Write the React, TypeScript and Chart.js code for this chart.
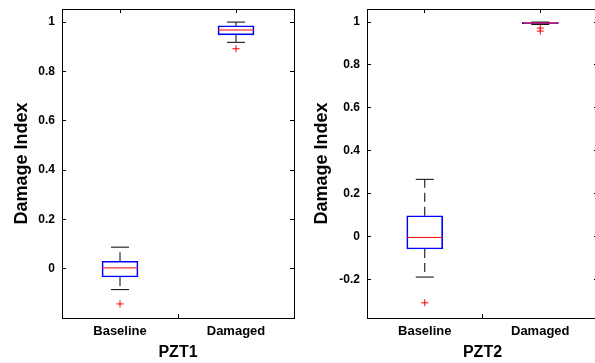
import React, { useEffect, useRef } from "react";
import { Chart, registerables } from "chart.js";
Chart.register(...registerables);

// ---------- data ----------
const categories = ["Baseline", "Damaged"];

// PZT1
const pzt1UpperWhisker = [0.088, 1.0];
const pzt1Q3 = [0.031, 0.985];
const pzt1Median = [0.004, 0.968];
const pzt1Q1 = [-0.033, 0.948];
const pzt1LowerWhisker = [-0.084, 0.918];
const pzt1Outliers = [[-0.142], [0.892]];
const pzt1YTicks = [0, 0.2, 0.4, 0.6, 0.8, 1];
const pzt1YRange = [-0.199, 1.053];

// PZT2
const pzt2UpperWhisker = [0.266, 1.0];
const pzt2Q3 = [0.096, 0.999];
const pzt2Median = [-0.005, 0.996];
const pzt2Q1 = [-0.059, 0.993];
const pzt2LowerWhisker = [-0.19, 0.989];
const pzt2Outliers = [[-0.31], [0.972, 0.958]];
const pzt2YTicks = [-0.2, 0, 0.2, 0.4, 0.6, 0.8, 1];
const pzt2YRange = [-0.381, 1.061];

const FONT = "'Liberation Sans', Arial, Helvetica, sans-serif";

type PanelSpec = {
  title: string;
  uw: number[];
  q3: number[];
  med: number[];
  q1: number[];
  lw: number[];
  out: number[][];
  yTicks: number[];
  yRange: number[];
  yAxisWidth: number;
  padRight: number;
};

function zeroPad(s: any) {
  s.paddingTop = 0;
  s.paddingBottom = 0;
  s.paddingLeft = 0;
  s.paddingRight = 0;
}

function buildConfig(p: PanelSpec): any {
  const xs = categories.map((_, i) => i + 1);
  const datasets: any[] = [];

  // outliers
  const outPts: any[] = [];
  p.out.forEach((arr, i) => arr.forEach((v) => outPts.push({ x: xs[i], y: v })));
  datasets.push({
    type: "scatter",
    data: outPts,
    pointStyle: "cross",
    pointRadius: 3.5,
    pointBorderColor: "#ff0000",
    pointBackgroundColor: "#ff0000",
    pointBorderWidth: 1,
    showLine: false,
    order: 0,
    xAxisID: "x",
    yAxisID: "y",
  });
  // medians
  datasets.push({
    type: "scatter",
    data: xs.map((x, i) => ({ x, y: p.med[i] })),
    pointStyle: "line",
    pointRadius: 18,
    pointBorderColor: "#ff0000",
    pointBorderWidth: 1,
    showLine: false,
    order: 1,
    xAxisID: "x",
    yAxisID: "y",
  });
  // boxes
  datasets.push({
    type: "bar",
    data: xs.map((x, i) => ({ x, y: [p.q1[i], p.q3[i]] })),
    barThickness: 36,
    grouped: false,
    borderColor: "#0000ff",
    borderWidth: 1,
    borderSkipped: false,
    backgroundColor: "rgba(255,255,255,0)",
    order: 2,
    xAxisID: "x",
    yAxisID: "y",
  });
  // caps
  const capPts: any[] = [];
  xs.forEach((x, i) => {
    capPts.push({ x, y: p.uw[i] });
    capPts.push({ x, y: p.lw[i] });
  });
  datasets.push({
    type: "scatter",
    data: capPts,
    pointStyle: "line",
    pointRadius: 9,
    pointBorderColor: "#000000",
    pointBorderWidth: 1,
    showLine: false,
    order: 3,
    xAxisID: "x",
    yAxisID: "y",
  });
  // whiskers
  xs.forEach((x, i) => {
    [
      [p.q3[i], p.uw[i]],
      [p.q1[i], p.lw[i]],
    ].forEach(([a, b]) => {
      datasets.push({
        type: "scatter",
        data: [
          { x, y: a },
          { x, y: b },
        ],
        showLine: true,
        borderColor: "#000000",
        borderWidth: 1,
        borderDash: [9, 5],
        pointRadius: 0,
        order: 4,
        xAxisID: "x",
        yAxisID: "y",
      });
    });
  });

  const gridOpts = {
    drawOnChartArea: false,
    drawTicks: true,
    tickLength: -4,
    color: "#000000",
    lineWidth: 1,
  };
  const borderOpts = { display: true, color: "#000000", width: 1 };
  const xTicksBuild = (s: any) => {
    s.ticks = xs.map((v) => ({ value: v }));
  };
  const yTicksBuild = (s: any) => {
    s.ticks = p.yTicks.map((v) => ({ value: v }));
  };

  return {
    type: "scatter",
    data: { datasets },
    options: {
      animation: false,
      responsive: false,
      events: [],
      layout: { autoPadding: false, padding: { left: 0, top: 9, right: p.padRight, bottom: 0 } },
      plugins: { legend: { display: false }, tooltip: { enabled: false } },
      scales: {
        x: {
          type: "linear",
          axis: "x",
          position: "bottom",
          min: 0.5,
          max: 2.5,
          offset: false,
          afterBuildTicks: xTicksBuild,
          afterFit: (s: any) => {
            s.height = 45;
            zeroPad(s);
          },
          ticks: {
            autoSkip: false,
            maxRotation: 0,
            minRotation: 0,
            padding: 10,
            color: "#000000",
            font: { family: FONT, size: 13, weight: "bold" },
            callback: (v: any) => categories[Math.round(Number(v)) - 1] ?? "",
          },
          grid: gridOpts,
          border: borderOpts,
          title: {
            display: true,
            text: p.title,
            color: "#000000",
            font: { family: FONT, size: 16, weight: "bold" },
            padding: { top: 0, bottom: 1 },
          },
        },
        xTop: {
          type: "linear",
          axis: "x",
          position: "top",
          min: 0.5,
          max: 2.5,
          offset: false,
          afterBuildTicks: xTicksBuild,
          afterFit: (s: any) => {
            s.height = 0;
            zeroPad(s);
          },
          ticks: { display: false },
          grid: gridOpts,
          border: borderOpts,
        },
        y: {
          type: "linear",
          axis: "y",
          position: "left",
          min: p.yRange[0],
          max: p.yRange[1],
          beginAtZero: false,
          afterBuildTicks: yTicksBuild,
          afterFit: (s: any) => {
            s.width = p.yAxisWidth;
            zeroPad(s);
          },
          ticks: {
            padding: 11,
            color: "#000000",
            font: { family: FONT, size: 12, weight: "bold" },
            callback: (v: any) => String(Number(Number(v).toFixed(3))),
          },
          grid: gridOpts,
          border: borderOpts,
          title: {
            display: true,
            text: "Damage Index",
            color: "#000000",
            font: { family: FONT, size: 18, weight: "bold" },
            padding: { top: 11, bottom: 0 },
          },
        },
        yRight: {
          type: "linear",
          axis: "y",
          position: "right",
          min: p.yRange[0],
          max: p.yRange[1],
          beginAtZero: false,
          afterBuildTicks: yTicksBuild,
          afterFit: (s: any) => {
            s.width = 0;
            zeroPad(s);
          },
          ticks: { display: false },
          grid: gridOpts,
          border: borderOpts,
        },
      },
    },
  };
}

function Panel({ spec, left }: { spec: PanelSpec; left: number }) {
  const ref = useRef<HTMLCanvasElement | null>(null);
  useEffect(() => {
    if (!ref.current) return;
    const chart = new Chart(ref.current, buildConfig(spec));
    return () => chart.destroy();
  }, []);
  return (
    <canvas
      ref={ref}
      width={300}
      height={363}
      style={{ position: "absolute", left, top: 0, width: 300, height: 363, display: "block" }}
    />
  );
}

export default function App() {
  const spec1: PanelSpec = {
    title: "PZT1",
    uw: pzt1UpperWhisker,
    q3: pzt1Q3,
    med: pzt1Median,
    q1: pzt1Q1,
    lw: pzt1LowerWhisker,
    out: pzt1Outliers,
    yTicks: pzt1YTicks,
    yRange: pzt1YRange,
    yAxisWidth: 62,
    padRight: 6,
  };
  const spec2: PanelSpec = {
    title: "PZT2",
    uw: pzt2UpperWhisker,
    q3: pzt2Q3,
    med: pzt2Median,
    q1: pzt2Q1,
    lw: pzt2LowerWhisker,
    out: pzt2Outliers,
    yTicks: pzt2YTicks,
    yRange: pzt2YRange,
    yAxisWidth: 67,
    padRight: 2,
  };
  return (
    <div
      style={{
        position: "fixed",
        left: 0,
        top: 0,
        width: 595,
        height: 363,
        overflow: "hidden",
        background: "#ffffff",
      }}
    >
      <Panel spec={spec1} left={0} />
      <Panel spec={spec2} left={300} />
    </div>
  );
}
